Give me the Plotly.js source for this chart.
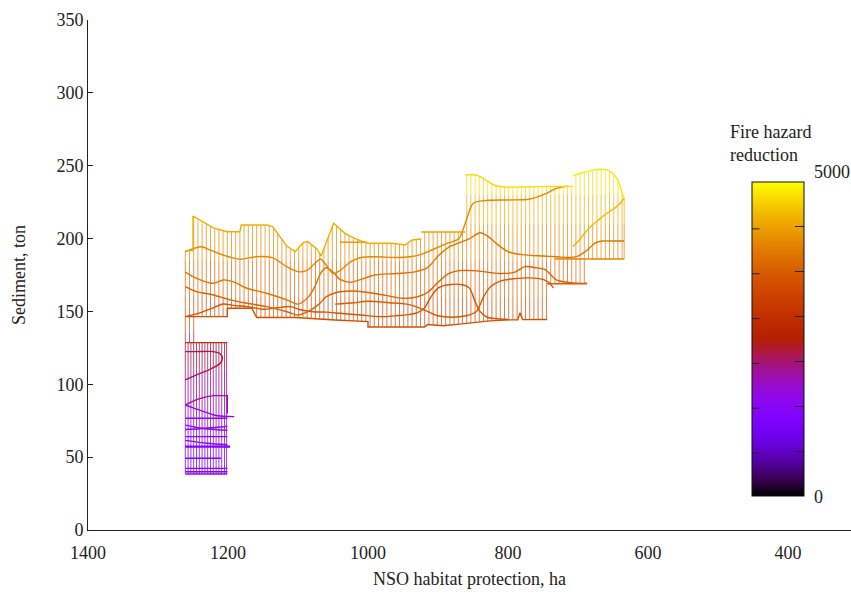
<!DOCTYPE html>
<html><head><meta charset="utf-8">
<script src="https://cdn.plot.ly/plotly-3.0.1.min.js"></script>
<style>body{margin:0;background:#fff}#chart{width:851px;height:595px}</style>
</head><body><div id="chart"></div>
<script>
// ---------------- DATA (ha = NSO habitat protection, ton = sediment, fh = fire hazard reduction) -------------
// vertical mesh columns of the upper (orange/yellow) surface
const colHa  = [1261,1255,1249,1243,1237,1231,1225,1219,1213,1207,
                1201,1195,1189,1183,1177,1171,1165,1159,1153,1147,
                1141,1135,1129,1123,1117,1111,1105,1099,1093,1087,
                1081,1075,1069,1063,1057,1051,1045,1039,1033,1027,
                1021,1015,1009,1003,997,991,985,979,973,967,
                961,955,949,943,937,931,925,919,913,907,
                901,895,889,883,877,871,865,859,853,847,
                841,835,829,823,817,811,805,799,793,787,
                781,775,769,763,757,751,745,739,733,727,
                721,715,709,703,697,691,685,679,673,667,
                661,655,649,643,637,634];
const colTop = [191.7,191.7,215.2,213.5,211.8,210.1,208.4,207.0,206.3,205.5,
                204.7,204.7,204.7,204.7,209.3,209.3,209.3,209.3,209.3,209.3,
                208.8,207.3,203.3,199.4,195.5,193.3,191.3,193.7,197.0,197.8,
                196.0,193.7,189.6,193.0,200.5,208.0,208.8,206.2,203.6,202.1,
                200.7,199.4,198.3,197.2,196.8,196.8,196.8,196.8,196.8,196.8,
                196.5,196.1,195.7,197.0,199.0,199.3,199.7,204.5,204.5,204.5,
                204.5,204.5,204.5,204.5,204.5,204.5,204.5,243.7,243.7,243.7,
                242.6,241.2,239.4,237.7,236.4,235.9,235.5,235.4,235.5,235.5,
                235.5,235.6,235.6,235.7,235.7,235.7,235.8,235.8,235.8,235.8,
                235.8,235.8,235.8,243.5,244.8,245.4,246.1,246.7,247.2,247.4,
                247.3,246.0,243.3,240.2,231.3,227.7];
const colBot = [128.6,128.6,128.6,146.4,146.4,146.4,146.4,146.4,146.4,146.4,
                146.4,152.2,152.2,152.2,152.2,152.2,151.3,145.8,145.8,145.8,
                145.8,145.8,145.8,145.8,145.8,145.6,145.5,145.4,145.3,145.2,
                145.1,145.0,144.8,144.7,144.5,144.2,144.1,144.0,143.8,143.7,
                143.5,143.4,143.2,143.0,139.3,139.3,139.3,139.3,139.3,139.3,
                139.3,139.3,139.3,139.3,139.3,139.3,139.3,139.3,140.8,140.6,
                140.4,140.2,140.5,140.8,141.0,141.2,141.5,141.7,142.0,142.4,
                142.8,143.1,143.4,143.7,144.0,144.1,144.2,144.2,144.2,144.2,
                147.0,144.4,144.4,144.4,144.5,144.5,144.5,169.0,169.0,169.0,
                169.0,169.0,169.0,169.0,169.0,169.0,186.0,186.0,186.0,186.0,
                186.0,186.0,186.0,186.0,186.0,186.0];
// vertical mesh columns of the lower (purple) surface
const purpHa  = [1261,1257,1253,1249,1245,1241,1237,1233,1229,1225,1221,1217,1213,1209,1205,1202];
const purpTop = [128.6,128.6,128.6,128.6,128.6,128.6,128.6,128.6,128.6,128.6,128.6,128.6,128.6,128.6,128.6,128.6];
const purpBot = [38.4,38.4,38.4,38.4,38.4,38.4,38.4,38.4,38.4,38.4,38.4,38.4,38.4,38.4,38.4,38.4];

// mesh rows (curves)
const topLeftHa  = [1261,1250,1250,1233,1221,1201,1183,1181,1144,1136,1126,1116,1104,1093,1086,1073,1067,1049,1033,1019,1001,966,947,937,924];
const topLeftTon = [191.7,191.7,215.5,210.7,207.3,204.7,204.7,209.3,209.3,208,201.3,194.9,191,197,197.9,192.9,188,210.5,203.6,200.2,196.8,196.8,195.6,199,199.7];
const flatHa = [1040,1001], flatTon = [197.5,197.5];
const rectTopHa = [924,861], rectTopTon = [204.5,204.5];
const topMidHa  = [861,847,839,829,819,804,770,737,707];
const topMidTon = [243.7,243.7,242.3,239.4,236.6,235.4,235.5,235.8,235.8];
const bumpHa  = [707,697,687,678,669,661,654,648,643,637,634];
const bumpTon = [242.8,244.8,245.9,247,247.6,247.3,245.9,243.5,240.2,231.3,227.7];
const c2Ha  = [1261,1238,1226,1207,1183,1159,1136,1116,1100,1088,1078,1068,1060,1050,1040,1025,1010,990,960,940,925,905,885,870,860,850,835,800,770,745,731,715];
const c2Ton = [191,194.4,192.2,188.7,185.8,187.6,186.7,180.7,177.3,178,182,186,182,176,178,184,187,187.5,187,187.5,189,193,197,200,212,224,226,226.5,227,231,234.5,236];
const c3Ha  = [1261,1245,1221,1207,1193,1173,1145,1116,1100,1085,1075,1068,1060,1050,1040,1025,1010,990,960,935,915,900,885,870,855,840,830,815,800,780,750,730,715,700,687,675,665,650,634];
const c3Ton = [177,172.7,169.3,171.6,170.4,165.9,162.5,157.9,155,160,168,176,180,177,172,170,172,175,176,177,180,188,194,197,200,204,202,196,191,189,188,187.5,187,188,192,197,198.3,198.3,198.3];
const c4Ha  = [1261,1245,1221,1197,1173,1145,1116,1100,1085,1070,1060,1045,1025,1000,975,950,930,915,900,885,870,850,830,810,790,776,760,746,731,715,700,687];
const c4Ton = [167,163.6,161.3,157.9,155.6,153.3,149.8,147.6,150,155,160,163,164,163,161,159,160,163,170,176,178,178,177,176,177,180.7,180,178.4,171.6,170,169.3,169.3];
const c5Ha  = [1261,1240,1221,1207,1190,1173,1150,1130,1111,1095,1079,1060,1040,1010,983,960,940,930,920,910,900,885,865,855,848,840,830,815,800];
const c5Ton = [146.4,149,152.5,155.1,154,153.3,151.5,152.5,153.3,151,149.8,149.5,148.7,147.5,146.4,147,148,149,152,160,166,168.3,168.3,166,158,150,146,145,144.5];
const c6Ha  = [1047,1020,1000,970,945,930,915,900,880,860,845,835,825,810,790,770,750,742,735];
const c6Ton = [155,156,157,156,155,153,150,147,146,147,150,160,167,171,172.5,173,172,170,166];
const botHa  = [1261,1201,1201,1166,1159,1104,1047,1000,1000,919,915,893,869,844,826,797,786,783,779,744];
const botTon = [146.4,146.4,152.2,152.2,145.8,145.8,144.1,143,139.3,139.3,141,140.2,141.3,142.4,143.5,144.2,144.2,149,144.4,144.5];
const stepHa = [744,687], stepTon = [169,169];
const rBotHa = [733,634], rBotTon = [186,186];
const r1Ha  = [707,698,690,680,670,660,650,642,634];
const r1Ton = [194.5,199,204,209,213,217,220,223,227.7];

// purple surface rows
const pTopHa = [1261,1201], pTopTon = [128.6,128.6];
const pFoldHa  = [1261,1245,1221,1211,1208,1211,1226,1245,1261];
const pFoldTon = [122.4,122.4,122.4,120.8,117.8,114.4,110.3,106.4,103];
const pBoxHa = [1261,1245,1230,1221,1201,1201], pBoxTon = [85.8,89.5,91.5,92.2,92.2,80];
const pL4Ha = [1261,1245,1230,1215,1191], pL4Ton = [85.8,83,80.5,78.4,77.8];
const pL5Ha = [1261,1201], pL5Ton = [76.7,76.7];
const pL6Ha = [1261,1240,1215,1201], pL6Ton = [72,70,68.8,68.5];
const pL7Ha = [1261,1240,1215,1201], pL7Ton = [69,69.5,70.5,71];
const pL8Ha = [1261,1201], pL8Ton = [64.1,64.1];
const pL9Ha = [1261,1230,1201], pL9Ton = [61.5,59.5,58.5];
const pL10Ha = [1261,1197], pL10Ton = [57.2,57.2];
const pL11Ha = [1261,1210], pL11Ton = [49.2,49.2];
const pL12Ha = [1261,1201], pL12Ton = [42.3,42.3];
const pL13Ha = [1261,1201], pL13Ton = [40,40];
const pL14Ha = [1261,1201], pL14Ton = [38.4,38.4];

// fire hazard reduction of each row
const rows = [
  {ha: botHa, ton: botTon, fh: 3400, shape:'linear'},
  {ha: stepHa, ton: stepTon, fh: 3550, shape:'linear'},
  {ha: rBotHa, ton: rBotTon, fh: 4000, shape:'linear'},
  {ha: c6Ha, ton: c6Ton, fh: 3550, shape:'spline'},
  {ha: c5Ha, ton: c5Ton, fh: 3450, shape:'spline'},
  {ha: c4Ha, ton: c4Ton, fh: 3650, shape:'spline'},
  {ha: c3Ha, ton: c3Ton, fh: 3850, shape:'spline'},
  {ha: c2Ha, ton: c2Ton, fh: 4050, shape:'spline'},
  {ha: r1Ha, ton: r1Ton, fh: 4500, shape:'spline'},
  {ha: flatHa, ton: flatTon, fh: 4150, shape:'linear'},
  {ha: topLeftHa, ton: topLeftTon, fh: 4400, shape:'linear'},
  {ha: rectTopHa, ton: rectTopTon, fh: 4300, shape:'linear'},
  {ha: topMidHa, ton: topMidTon, fh: 4750, shape:'spline'},
  {ha: bumpHa, ton: bumpTon, fh: 4850, shape:'spline'},
  {ha: pTopHa, ton: pTopTon, fh: 2950, shape:'linear'},
  {ha: pFoldHa, ton: pFoldTon, fh: 2250, shape:'spline'},
  {ha: pBoxHa, ton: pBoxTon, fh: 1900, shape:'linear'},
  {ha: pL4Ha, ton: pL4Ton, fh: 1700, shape:'spline'},
  {ha: pL5Ha, ton: pL5Ton, fh: 1600, shape:'linear'},
  {ha: pL6Ha, ton: pL6Ton, fh: 1500, shape:'spline'},
  {ha: pL7Ha, ton: pL7Ton, fh: 1500, shape:'spline'},
  {ha: pL8Ha, ton: pL8Ton, fh: 1450, shape:'linear'},
  {ha: pL9Ha, ton: pL9Ton, fh: 1400, shape:'spline'},
  {ha: pL10Ha, ton: pL10Ton, fh: 1250, shape:'linear', w:2.2},
  {ha: pL11Ha, ton: pL11Ton, fh: 1200, shape:'linear'},
  {ha: pL12Ha, ton: pL12Ton, fh: 1300, shape:'linear'},
  {ha: pL13Ha, ton: pL13Ton, fh: 1400, shape:'linear'},
  {ha: pL14Ha, ton: pL14Ton, fh: 1550, shape:'linear'}
];

const xTicks = [1400,1200,1000,800,600,400];
const yTicks = [0,50,100,150,200,250,300,350];
const fhMax = 5000;

// ---------------- STYLE ----------------
const palette = [[0,'rgb(0,0,0)'],[0.05,'rgb(57,0,79)'],[0.1,'rgb(81,0,150)'],[0.15,'rgb(99,1,206)'],
  [0.2,'rgb(114,2,243)'],[0.25,'rgb(128,4,255)'],[0.3,'rgb(140,7,243)'],[0.35,'rgb(151,11,206)'],
  [0.4,'rgb(161,16,150)'],[0.45,'rgb(171,23,79)'],[0.5,'rgb(180,32,0)'],[0.55,'rgb(189,42,0)'],
  [0.6,'rgb(198,55,0)'],[0.65,'rgb(206,70,0)'],[0.7,'rgb(213,87,0)'],[0.75,'rgb(221,108,0)'],
  [0.8,'rgb(228,131,0)'],[0.85,'rgb(235,157,0)'],[0.9,'rgb(242,186,0)'],[0.95,'rgb(249,219,0)'],[1,'rgb(255,255,0)']];
function pc(t){
  t = Math.max(0, Math.min(1, t));
  for (let i = 1; i < palette.length; i++) {
    if (t <= palette[i][0]) {
      const a = palette[i-1], b = palette[i];
      const f = (t - a[0]) / (b[0] - a[0]);
      const ca = a[1].match(/\d+/g).map(Number), cb = b[1].match(/\d+/g).map(Number);
      return 'rgb(' + ca.map((v,k)=>Math.round(v + f*(cb[k]-v))).join(',') + ')';
    }
  }
  return palette[palette.length-1][1];
}
// colour bands (ton ranges) used for the vertical mesh strokes
const bands = [[30,60,0.28],[60,85,0.33],[85,110,0.39],[110,135,0.45],[135,160,0.66],[160,185,0.73],[185,210,0.81],[210,230,0.88],[230,260,0.95]];

const traces = [];
function addColumns(ha, lo, hi, op){
  bands.forEach(b => {
    const xs = [], ys = [];
    for (let i = 0; i < ha.length; i++) {
      const a = Math.max(lo[i], b[0]), c = Math.min(hi[i], b[1]);
      if (c > a) { xs.push(ha[i], ha[i], null); ys.push(a, c, null); }
    }
    if (xs.length) traces.push({type:'scatter', mode:'lines', x: xs, y: ys, connectgaps:false,
      line:{color: pc(b[2]), width: 1}, opacity: op, hoverinfo:'skip', showlegend:false});
  });
}
addColumns(colHa, colBot, colTop, 0.7);
addColumns(purpHa, purpBot, purpTop, 0.8);

rows.forEach(r => traces.push({type:'scatter', mode:'lines', x: r.ha, y: r.ton,
  line:{color: pc(r.fh / fhMax), width: r.w || 1.4, shape: r.shape, smoothing: 0.8},
  hoverinfo:'skip', showlegend:false}));

// colour bar
const cbTicks = [1,2,3,4,5,6].map(k => k * fhMax / 7);
traces.push({type:'scatter', mode:'markers', x:[2000], y:[-100], hoverinfo:'skip', showlegend:false,
  marker:{size:1, color:[0], cmin:0, cmax:fhMax, colorscale: palette, showscale:true,
    colorbar:{x:0.870, xanchor:'left', y:0.3745, yanchor:'middle', thickness:52, thicknessmode:'pixels',
      len:314, lenmode:'pixels', xpad:0, ypad:0, outlinewidth:1, outlinecolor:'#111',
      tickmode:'array', tickvals: cbTicks, ticks:'inside', ticklen:9, tickcolor:'#222',
      showticklabels:false}}});

// mirrored tick marks on the left side of the colour bar (drawn as headless arrows above the bar)
const cbBottomY = 0.0627, cbTopY = 0.6784, cbLeftX = 0.8703;
const tickMarks = cbTicks.map(v => ({
  xref:'paper', yref:'paper', x: cbLeftX, y: cbBottomY + (cbTopY - cbBottomY) * v / fhMax,
  text:'', showarrow:true, arrowhead:0, arrowwidth:1, arrowcolor:'#222', ax:9, ay:0, standoff:0, startstandoff:0
}));

const font = {family:'"Liberation Serif", "Times New Roman", serif', size:18, color:'#222'};
const layout = {
  width:851, height:595, margin:{l:88, r:0, t:20, b:65},
  paper_bgcolor:'#fff', plot_bgcolor:'#fff', font: font, showlegend:false,
  xaxis:{range:[1400,310], tickvals: xTicks, showgrid:false, zeroline:false, showline:true,
    linecolor:'#222', linewidth:1, ticks:'outside', ticklen:6, tickcolor:'rgba(0,0,0,0)',
    title:{text:'NSO habitat protection, ha', font: font, standoff: 10}},
  yaxis:{range:[0,350], tickvals: yTicks, showgrid:false, zeroline:false, showline:true,
    linecolor:'#222', linewidth:1, ticks:'inside', ticklen:5, tickcolor:'#222',
    title:{text:'Sediment, ton', font: font, standoff: 26}},
  annotations:[
    {xref:'paper', yref:'paper', x:0.8388, y:0.758, xanchor:'left', yanchor:'middle', align:'left',
      showarrow:false, text:'Fire hazard<br>reduction', font: font},
    {xref:'paper', yref:'paper', x:0.949, y:0.702, xanchor:'left', yanchor:'middle', showarrow:false, text:'5000', font: font},
    {xref:'paper', yref:'paper', x:0.949, y:0.0647, xanchor:'left', yanchor:'middle', showarrow:false, text:'0', font: font}
  ].concat(tickMarks)
};
Plotly.newPlot('chart', traces, layout, {displayModeBar:false, staticPlot:true});
</script></body></html>
